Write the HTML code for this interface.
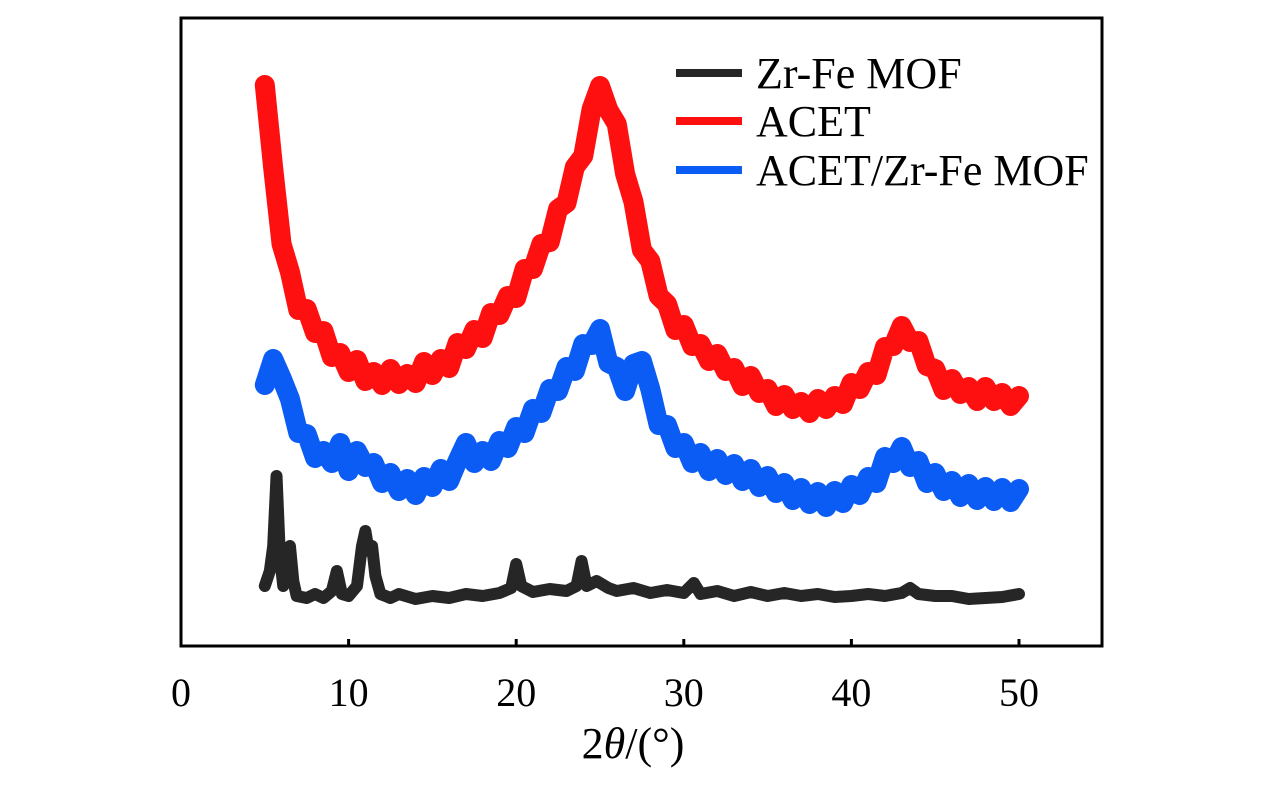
<!DOCTYPE html>
<html><head><meta charset="utf-8"><style>
html,body{margin:0;padding:0;background:#fff;}
svg{display:block;font-family:"Liberation Serif",serif;}
</style></head><body>
<svg id="chart" width="1276" height="787">
<g id="series"></g>
<rect x="181" y="18" width="921" height="628" fill="none" stroke="#000" stroke-width="3"/>
<g id="ticks"></g>
<text x="633" y="758" font-size="44" text-anchor="middle">2<tspan font-style="italic">θ</tspan>/(°)</text>
<g>
<line x1="676" y1="73" x2="742" y2="73" stroke="#262626" stroke-width="8"/>
<text x="756" y="88" font-size="44">Zr-Fe MOF</text>
<line x1="676" y1="121" x2="742" y2="121" stroke="#ff1010" stroke-width="8"/>
<text x="756" y="136" font-size="44">ACET</text>
<line x1="676" y1="170" x2="742" y2="170" stroke="#0a5cf5" stroke-width="8"/>
<text x="756" y="185" font-size="44">ACET/Zr-Fe MOF</text>
</g>
</svg>
<script>
const xTicks=[0,10,20,30,40,50];
const gridX=[5,5.5,6,6.5,7,7.5,8,8.5,9,9.5,10,10.5,11,11.5,12,12.5,13,13.5,14,14.5,15,15.5,16,16.5,17,17.5,18,18.5,19,19.5,20,20.5,21,21.5,22,22.5,23,23.5,24,24.5,25,25.5,26,26.5,27,27.5,28,28.5,29,29.5,30,30.5,31,31.5,32,32.5,33,33.5,34,34.5,35,35.5,36,36.5,37,37.5,38,38.5,39,39.5,40,40.5,41,41.5,42,42.5,43,43.5,44,44.5,45,45.5,46,46.5,47,47.5,48,48.5,49,49.5,50];
const acetY=[561,478,402,374,336,337,313,315,289,293,274,286,265,274,261,277,262,272,263,284,271,287,278,303,297,316,308,333,331,350,348,377,377,402,404,437,443,479,490,537,560,536,522,472,444,396,385,350,342,316,321,300,302,285,292,275,278,260,270,253,257,240,251,237,244,233,247,237,250,242,263,257,274,271,299,300,320,304,305,280,277,256,267,252,259,245,259,245,253,240,250];
const blendY=[261,287,268,247,213,212,188,195,183,203,175,195,179,183,163,173,155,167,151,169,159,177,165,185,203,183,195,185,205,198,219,213,237,233,257,255,279,275,302,301,317,283,279,255,282,285,257,221,221,198,203,183,193,175,187,171,182,165,177,159,170,153,163,146,158,142,154,139,155,143,161,151,169,163,189,183,199,179,185,163,173,155,165,149,162,146,159,145,158,144,157];
const mofX=[5,5.3,5.5,5.7,5.9,6.1,6.3,6.5,6.7,6.9,7.5,8,8.5,9,9.3,9.6,10,10.5,10.8,11,11.2,11.4,11.6,11.9,12.5,13,14,15,16,17,18,19,19.7,20,20.3,21,22,23,23.6,23.9,24.2,24.8,25.5,26,27,28,29,30,30.6,31,32,33,34,35,36,37,38,39,40,41,42,43,43.5,44,45,46,47,48,49,50];
const mofY=[60,75,100,170,90,60,75,100,65,50,48,52,48,55,75,52,50,60,100,115,95,100,70,52,48,52,47,50,48,52,50,53,58,82,60,54,57,55,60,85,60,65,58,55,58,53,56,53,63,52,55,50,54,50,53,50,52,49,50,52,50,53,58,52,50,50,47,48,49,52];
const NS='http://www.w3.org/2000/svg';
const xS=v=>181+v*16.76;
const yS=v=>646-v;
const series=document.getElementById('series');
function draw(xs,ys,color,w,name){
  const p=document.createElementNS(NS,'polyline');
  p.setAttribute('points',xs.map((x,i)=>xS(x)+','+yS(ys[i])).join(' '));
  p.setAttribute('fill','none');p.setAttribute('stroke',color);
  p.setAttribute('stroke-width',w);p.setAttribute('stroke-linejoin','round');p.setAttribute('stroke-linecap','round');
  
  
  series.appendChild(p);
}
draw(gridX,acetY,'#ff1010',20,'acet-line');
draw(gridX,blendY,'#0a5cf5',20,'acet-zrfe-line');
draw(mofX,mofY,'#262626',12,'zrfe-mof-line');
const tg=document.getElementById('ticks');
xTicks.forEach(t=>{
  if(t>0&&t<55){
    const l=document.createElementNS(NS,'line');
    l.setAttribute('x1',xS(t));l.setAttribute('x2',xS(t));l.setAttribute('y1',646);l.setAttribute('y2',639);
    l.setAttribute('stroke','#000');l.setAttribute('stroke-width',3);
    
    
    tg.appendChild(l);
  }
  const tx=document.createElementNS(NS,'text');
  tx.setAttribute('x',xS(t));tx.setAttribute('y',706);tx.setAttribute('font-size',40);tx.setAttribute('text-anchor','middle');
  tx.textContent=t;
  
  
  tg.appendChild(tx);
});
</script>
</body></html>
